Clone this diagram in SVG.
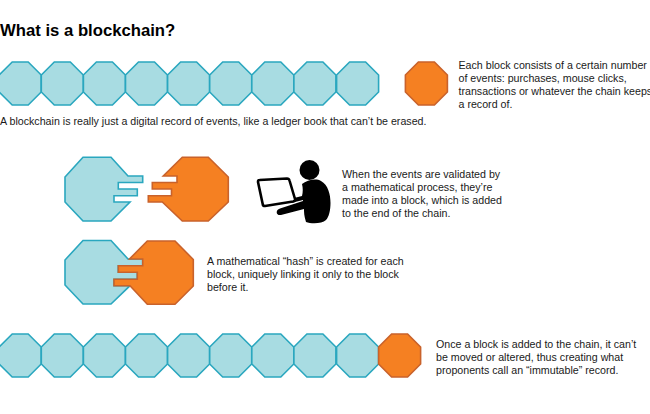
<svg xmlns="http://www.w3.org/2000/svg" width="650" height="414" viewBox="0 0 650 414">
<style>
text{font-family:"Liberation Sans",Arial,sans-serif;font-size:10.67px;fill:#1a1a1a}
.title{font-size:16.7px;font-weight:bold;fill:#000}
.b{fill:#a8dce2;stroke:#2aa7bf;stroke-width:1.6;stroke-linejoin:miter}
.o{fill:#f58022;stroke:#c9622b;stroke-width:1.6;stroke-linejoin:miter}
</style>
<defs>
<polygon id="oct" points="0,13 13,0 29,0 42,13 42,30 29,43 13,43 0,30"/>
</defs>
<rect width="650" height="414" fill="#fff"/>
<text class="title" x="0" y="36">What is a blockchain?</text>
<g id="chain-top">
<use href="#oct" class="b" x="-0.8" y="62"/>
<use href="#oct" class="b" x="41.3" y="62"/>
<use href="#oct" class="b" x="83.4" y="62"/>
<use href="#oct" class="b" x="125.5" y="62"/>
<use href="#oct" class="b" x="167.6" y="62"/>
<use href="#oct" class="b" x="209.7" y="62"/>
<use href="#oct" class="b" x="251.8" y="62"/>
<use href="#oct" class="b" x="293.9" y="62"/>
<use href="#oct" class="b" x="336.6" y="62"/>
</g>
<g id="block-single"><use href="#oct" class="o" x="405.4" y="62"/></g>
<text x="458.5" y="69.3">Each block consists of a certain number</text>
<text x="458.5" y="82.1">of events: purchases, mouse clicks,</text>
<text x="458.5" y="94.9">transactions or whatever the chain keeps</text>
<text x="458.5" y="107.7">a record of.</text>
<text x="0" y="124.5">A blockchain is really just a digital record of events, like a ledger book that can’t be erased.</text>
<g id="block-blue-open"><path class="b" d="M83,157.3H111L128,176H142.7V182.5H118.3V189H137.3V195.7H114V202H130L111,221H83L65,202V177Z"/></g>
<g id="block-orange-open"><path class="o" d="M182.3,157.3H208.3L228.3,177V202L208.3,221H182.3L162.3,202H148.3V195.7H171.5V189H152.3V182.5H177V176H163.3Z"/></g>
<g id="person">
<circle cx="309.5" cy="170" r="10"/>
<path d="M302,184C307,180 316,178 321,181C328,185 330.500,194 330.500,203C330.500,210 329,217 326,220C322,224 311,224 306,222C304,216 304,212 304,209L281,215C276,216 275,210 280,208.500L303,201L303,200L291,203L290,199L302,196C303,192 303,188 302,184Z"/>
<path d="M259.500,180L287,178.500Q289,178.500 289.500,180.500L295,199Q295.500,201 293,201.500L265,206Q263,206 262.800,204.500L258,182Q258,180 259.500,180Z" fill="#fff" stroke="#000" stroke-width="2.6" stroke-linejoin="round"/>
</g>
<text x="342" y="178">When the events are validated by</text>
<text x="342" y="191">a mathematical process, they’re</text>
<text x="342" y="204">made into a block, which is added</text>
<text x="342" y="217">to the end of the chain.</text>
<g id="block-blue-joined"><path class="b" d="M83,240.500H111L128,259H142.700V265.700H118.300V272.300H137.300V279.300H114V285.700H130L111,304H83L65,285V260Z"/></g>
<g id="block-orange-joined"><path class="o" d="M147.300,241H175L193.300,259.500V286L175,304.300H147.300L130,285.700H114V279.300H137.300V272.300H118.300V265.700H142.700V259H129.500Z"/></g>
<text x="207" y="265">A mathematical “hash” is created for each</text>
<text x="207" y="278">block, uniquely linking it only to the block</text>
<text x="207" y="291">before it.</text>
<g id="chain-bottom">
<use href="#oct" class="b" x="-0.8" y="334"/>
<use href="#oct" class="b" x="41.3" y="334"/>
<use href="#oct" class="b" x="83.4" y="334"/>
<use href="#oct" class="b" x="125.500" y="334"/>
<use href="#oct" class="b" x="167.600" y="334"/>
<use href="#oct" class="b" x="209.700" y="334"/>
<use href="#oct" class="b" x="251.800" y="334"/>
<use href="#oct" class="b" x="293.900" y="334"/>
<use href="#oct" class="b" x="336.600" y="334"/>
<use href="#oct" class="o" x="378.600" y="334"/>
</g>
<text x="436" y="348">Once a block is added to the chain, it can’t</text>
<text x="436" y="361">be moved or altered, thus creating what</text>
<text x="436" y="374">proponents call an “immutable” record.</text>
</svg>
